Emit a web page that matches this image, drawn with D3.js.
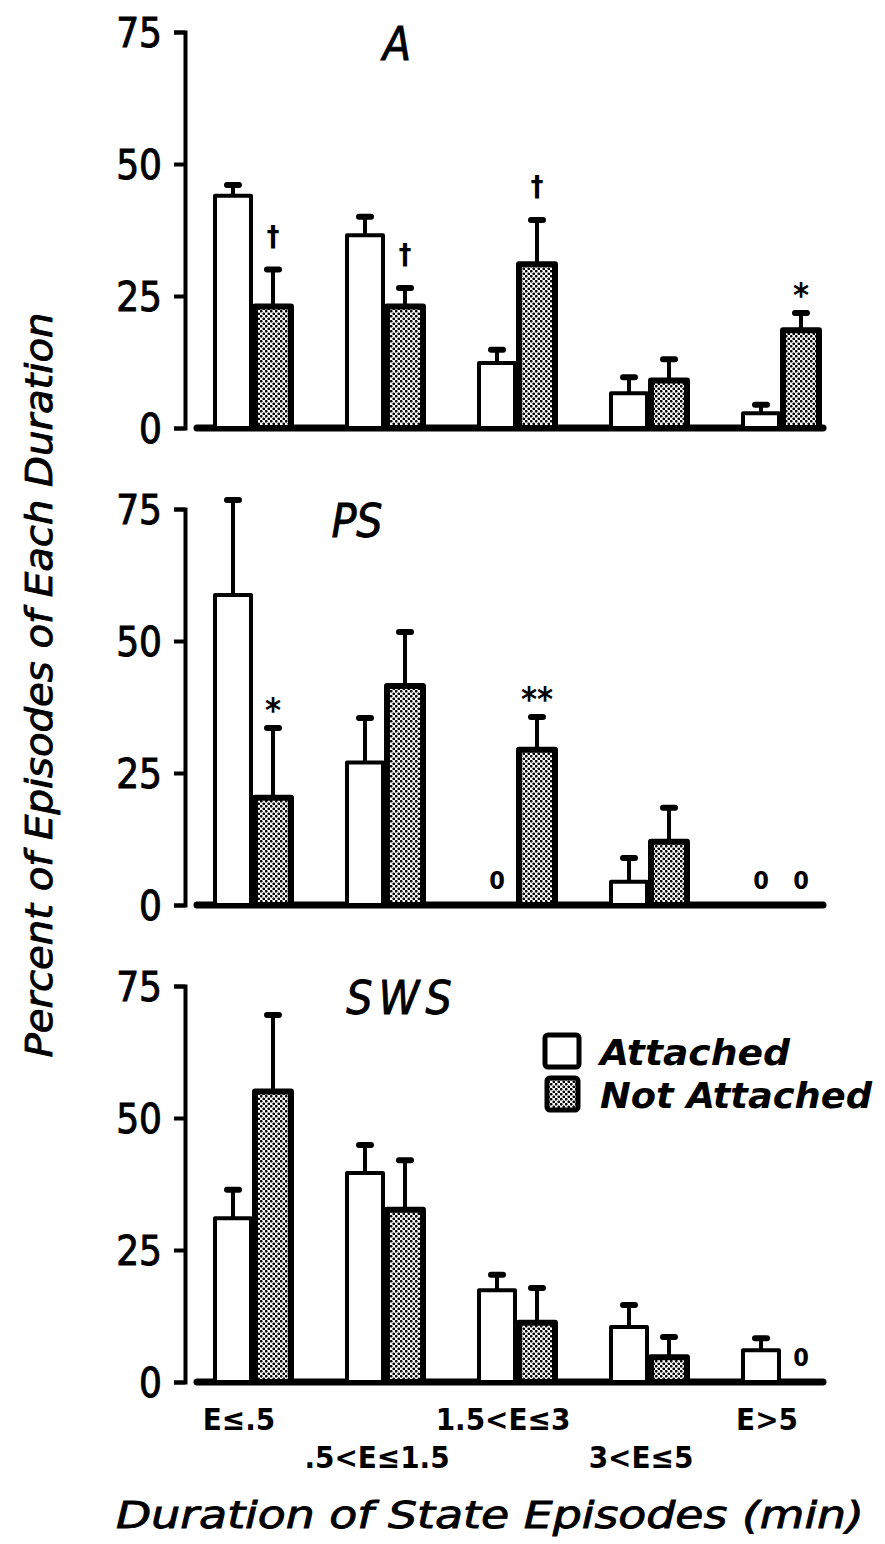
<!DOCTYPE html>
<html>
<head>
<meta charset="utf-8">
<script src="https://cdn.jsdelivr.net/npm/d3@7"></script>
<style>
  body { margin: 0; background: #fff; }
  text { font-family: "DejaVu Sans Condensed", "DejaVu Sans", sans-serif; fill: #000; }
</style>
</head>
<body>
<svg id="chart" width="885" height="1544"></svg>
<script>
// duration categories (min)
var categories = ["E≤.5", ".5<E≤1.5", "1.5<E≤3", "3<E≤5", "E>5"];
var panelNames = ["A", "PS", "SWS"];
var yTicks = [0, 25, 50, 75];

// percent of episodes, mean and SE
var attA = [44, 36.5, 12.3, 6.6, 2.8];
var attAErr = [2, 3.5, 2.5, 3, 1.6];
var notA = [23, 23, 31, 9, 18.5];
var notAErr = [7, 3.5, 8.4, 4, 3.3];

var attPS = [58.7, 27, 0, 4.4, 0];
var attPSErr = [18, 8.4, 0, 4.5, 0];
var notPS = [20.3, 41.5, 29.4, 12, 0];
var notPSErr = [13.2, 10.2, 6.2, 6.4, 0];

var attSWS = [31, 39.6, 17.4, 10.4, 6];
var attSWSErr = [5.4, 5.3, 2.9, 4.2, 2.3];
var notSWS = [55, 32.6, 11.2, 4.7, 0];
var notSWSErr = [14.5, 9.4, 6.6, 3.8, 0];

// significance marks over the Not Attached bars
var signA = ["†", "†", "†", "", "*"];
var signPS = ["*", "", "**", "", ""];
var signSWS = ["", "", "", "", ""];

var panels = [
  { name: "A", att: attA, attErr: attAErr, not: notA, notErr: notAErr, sign: signA, base: 428 },
  { name: "PS", att: attPS, attErr: attPSErr, not: notPS, notErr: notPSErr, sign: signPS, base: 905 },
  { name: "SWS", att: attSWS, attErr: attSWSErr, not: notSWS, notErr: notSWSErr, sign: signSWS, base: 1382 }
];

var svg = d3.select("#chart");

// stipple pattern for "Not Attached"
var defs = svg.append("defs");
var pat = defs.append("pattern")
    .attr("id", "dots")
    .attr("width", 5).attr("height", 5)
    .attr("patternUnits", "userSpaceOnUse");
pat.append("rect").attr("width", 5).attr("height", 5).attr("fill", "#fff");
pat.append("circle").attr("cx", 1.25).attr("cy", 1.25).attr("r", 1.35).attr("fill", "#000");
pat.append("circle").attr("cx", 3.75).attr("cy", 3.75).attr("r", 1.35).attr("fill", "#000");

var x = d3.scaleBand()
    .domain(categories)
    .range([187, 847])
    .paddingInner(0.394)
    .paddingOuter(0.197);

var xs = d3.scaleBand()
    .domain(["att", "not"])
    .range([0, x.bandwidth()]);

var panelHeight = 396;

panels.forEach(function (p) {
  var y = d3.scaleLinear().domain([0, 75]).range([p.base, p.base - panelHeight]);
  var g = svg.append("g");

  // y axis
  var ax = g.append("g")
      .attr("transform", "translate(185,0)")
      .call(d3.axisLeft(y).tickValues(yTicks).tickSizeInner(11).tickSizeOuter(11).tickPadding(12));
  ax.selectAll("path, line").attr("stroke", "#000").attr("stroke-width", 4);
  ax.selectAll("text")
      .style("font-size", "40px")
      .attr("stroke", "#000").attr("stroke-width", 0.9)
      .attr("dy", "0.36em");

  // baseline
  g.append("line")
      .attr("x1", x.range()[0] + 10).attr("x2", x.range()[1] - 24)
      .attr("y1", y(0)).attr("y2", y(0))
      .attr("stroke", "#000").attr("stroke-width", 7)
      .attr("stroke-linecap", "round");

  var rows = [];
  categories.forEach(function (c, i) {
    rows.push({ cat: c, key: "att", v: p.att[i], e: p.attErr[i], sign: "" });
    rows.push({ cat: c, key: "not", v: p.not[i], e: p.notErr[i], sign: p.sign[i] });
  });

  // error bars
  var eb = rows.filter(function (d) { return d.e > 0; });
  g.selectAll(".err")
    .data(eb).enter().append("line")
      .attr("x1", function (d) { return x(d.cat) + xs(d.key) + xs.bandwidth() / 2; })
      .attr("x2", function (d) { return x(d.cat) + xs(d.key) + xs.bandwidth() / 2; })
      .attr("y1", function (d) { return y(d.v); })
      .attr("y2", function (d) { return y(d.v + d.e); })
      .attr("stroke", "#000").attr("stroke-width", 4);
  g.selectAll(".cap")
    .data(eb).enter().append("line")
      .attr("x1", function (d) { return x(d.cat) + xs(d.key) + xs.bandwidth() / 2 - 6; })
      .attr("x2", function (d) { return x(d.cat) + xs(d.key) + xs.bandwidth() / 2 + 6; })
      .attr("y1", function (d) { return y(d.v + d.e); })
      .attr("y2", function (d) { return y(d.v + d.e); })
      .attr("stroke", "#000").attr("stroke-width", 6)
      .attr("stroke-linecap", "round");

  // bars
  g.selectAll(".bar")
    .data(rows).enter().append("rect")
      .attr("x", function (d) { return x(d.cat) + xs(d.key) + 2; })
      .attr("y", function (d) { return y(d.v); })
      .attr("width", xs.bandwidth() - 4)
      .attr("height", function (d) { return y(0) - y(d.v); })
      .attr("fill", function (d) { return d.key === "att" ? "#fff" : "url(#dots)"; })
      .attr("stroke", "#000")
      .attr("stroke-width", function (d) { return d.key === "att" ? 4 : 6; })
      .attr("stroke-linejoin", "round");

  // significance marks
  g.selectAll(".sign")
    .data(rows.filter(function (d) { return d.sign; })).enter().append("text")
      .attr("x", function (d) { return x(d.cat) + xs(d.key) + xs.bandwidth() / 2; })
      .attr("y", function (d) { return y(d.v + d.e) - (d.sign === "†" ? 24 : 6); })
      .attr("text-anchor", "middle")
      .style("font-size", function (d) { return d.sign === "†" ? "28px" : "34px"; })
      .style("font-weight", "bold")
      .text(function (d) { return d.sign; });

  // zero labels
  g.selectAll(".zero")
    .data(rows.filter(function (d) { return d.v === 0; })).enter().append("text")
      .attr("x", function (d) { return x(d.cat) + xs(d.key) + xs.bandwidth() / 2; })
      .attr("y", y(0) - 16)
      .attr("text-anchor", "middle")
      .style("font-size", "25px")
      .style("font-weight", "bold")
      .text("0");

  // panel title
  g.append("text")
      .attr("x", p.name === "A" ? 397 : (p.name === "PS" ? 357 : 402))
      .attr("y", p.base - panelHeight + 28)
      .attr("text-anchor", "middle")
      .style("font-size", "46px")
      .style("font-style", "italic")
      .attr("stroke", "#000").attr("stroke-width", 0.8)
      .style("letter-spacing", p.name === "SWS" ? "6px" : "0px")
      .text(p.name);
});

// x tick labels, staggered
var sws = panels[2];
svg.selectAll(".xlab")
  .data(categories).enter().append("text")
    .attr("x", function (d, i) { return x(d) + x.bandwidth() / 2 + (i % 2 === 0 ? -14 : -8); })
    .attr("y", function (d, i) { return sws.base + (i % 2 === 0 ? 48 : 86); })
    .attr("text-anchor", "middle")
    .style("font-size", "31px")
    .style("font-weight", "bold")
    .text(function (d) { return d; });

// axis titles
svg.append("text")
    .attr("transform", "translate(52,685) rotate(-90)")
    .attr("text-anchor", "middle")
    .style("font-size", "38px")
    .style("font-style", "italic")
    .attr("stroke", "#000").attr("stroke-width", 0.8)
    .attr("textLength", 745)
    .attr("lengthAdjust", "spacingAndGlyphs")
    .text("Percent of Episodes of Each Duration");

svg.append("text")
    .attr("x", 490).attr("y", 1528)
    .attr("text-anchor", "middle")
    .style("font-size", "38px")
    .style("font-style", "italic")
    .attr("stroke", "#000").attr("stroke-width", 0.8)
    .attr("textLength", 748)
    .attr("lengthAdjust", "spacingAndGlyphs")
    .text("Duration of State Episodes (min)");

// legend
var legend = svg.append("g").attr("transform", "translate(545,1033)");
var legendItems = ["Attached", "Not Attached"];
var legendWidths = [190, 272];
legend.selectAll("rect")
  .data(legendItems).enter().append("rect")
    .attr("x", function (d, i) { return i ? 2 : 0; })
    .attr("y", function (d, i) { return 2 + i * 43; })
    .attr("width", function (d, i) { return i ? 31 : 34; })
    .attr("height", 32)
    .attr("rx", 3)
    .attr("fill", function (d, i) { return i ? "url(#dots)" : "#fff"; })
    .attr("stroke", "#000")
    .attr("stroke-width", 5);
legend.selectAll("text")
  .data(legendItems).enter().append("text")
    .attr("x", 55)
    .attr("y", function (d, i) { return 32 + i * 43; })
    .style("font-size", "36px")
    .style("font-style", "italic")
    .style("font-weight", "bold")
    .attr("textLength", function (d, i) { return legendWidths[i]; })
    .attr("lengthAdjust", "spacingAndGlyphs")
    .text(function (d) { return d; });
</script>
</body>
</html>
